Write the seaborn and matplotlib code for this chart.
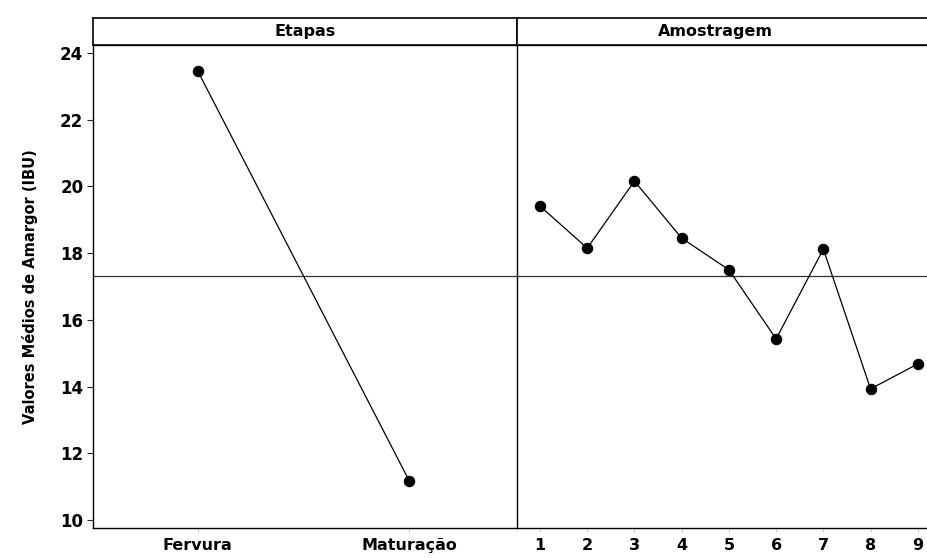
import matplotlib
matplotlib.use("Agg")
import matplotlib.pyplot as plt
import seaborn as sns
import pandas as pd
import numpy as np

etapas = ["Fervura", "Maturação"]
etapas_vals = [23.46, 11.17]
amostras = [1, 2, 3, 4, 5, 6, 7, 8, 9]
amostras_vals = [19.41, 18.15, 20.16, 18.45, 17.50, 15.43, 18.12, 13.93, 14.68]
ytick_vals = [10, 12, 14, 16, 18, 20, 22, 24]
ylabel = "Valores Médios de Amargor (IBU)"
panel_titles = ["Etapas", "Amostragem"]

sns.set_style("white")
plt.rcParams['font.family'] = ['DejaVu Sans']
plt.rcParams['text.color'] = 'black'
plt.rcParams['axes.labelcolor'] = 'black'
plt.rcParams['xtick.labelcolor'] = 'black'
plt.rcParams['ytick.labelcolor'] = 'black'

W, H = 928, 559
fig = plt.figure(figsize=(W / 100, H / 100), dpi=100)

def rect(x0, y0, x1, y1):
    return [x0 / W, 1 - y1 / H, (x1 - x0) / W, (y1 - y0) / H]

ylim = (9.76, 24.24)
grand_mean = np.mean(etapas_vals)

ax1 = fig.add_axes(rect(93, 45, 517, 528))
ax2 = fig.add_axes(rect(517, 45, 940, 528))
h1 = fig.add_axes(rect(93, 18, 517, 45))
h2 = fig.add_axes(rect(517, 18, 940, 45))

df1 = pd.DataFrame({"x": [0, 1], "y": etapas_vals})
df2 = pd.DataFrame({"x": amostras, "y": amostras_vals})

sns.lineplot(data=df1, x="x", y="y", ax=ax1, color="black", lw=0.9,
             marker="o", markersize=7.5, markeredgecolor="black")
sns.lineplot(data=df2, x="x", y="y", ax=ax2, color="black", lw=0.9,
             marker="o", markersize=7.5, markeredgecolor="black")

for ax in (ax1, ax2):
    ax.axhline(grand_mean, color="#333333", lw=0.9, zorder=0)
    ax.set_ylim(*ylim)
    ax.set_xlabel("")
    ax.set_ylabel("")
    for s in ax.spines.values():
        s.set_color("black")
        s.set_linewidth(1.0)

ax1.set_xlim(-0.495, 1.509)
ax1.set_xticks([0, 1])
ax1.set_xticklabels(etapas)
ax1.set_yticks(ytick_vals)
ax1.set_ylabel(ylabel, fontsize=10.5, fontweight="bold", labelpad=16)
ax1.tick_params(axis="y", length=4, width=0.8, direction="out", left=True,
                labelsize=12, pad=3)
ax1.tick_params(axis="x", length=3, width=0.5, direction="out", bottom=True,
                color="#bbbbbb", labelsize=11.5, pad=4)
ax1.spines["right"].set_visible(False)

ax2.set_xlim(0.513, 9.47)
ax2.set_xticks(amostras)
ax2.set_xticklabels([str(a) for a in amostras])
ax2.set_yticks([])
ax2.tick_params(axis="x", length=3, width=0.5, direction="out", bottom=True,
                color="#bbbbbb", labelsize=11.5, pad=4)

for lab in ax1.get_xticklabels() + ax1.get_yticklabels() + ax2.get_xticklabels():
    lab.set_fontweight("bold")

for h, t, cx in zip((h1, h2), panel_titles, (0.5, 0.47)):
    h.set_xticks([])
    h.set_yticks([])
    h.set_xlim(0, 1)
    h.set_ylim(0, 1)
    for s in h.spines.values():
        s.set_color("black")
        s.set_linewidth(1.2)
    h.text(cx, 0.5, t, ha="center", va="center", fontsize=11.5,
           fontweight="bold", transform=h.transAxes)

fig.savefig("out.png", dpi=100)
